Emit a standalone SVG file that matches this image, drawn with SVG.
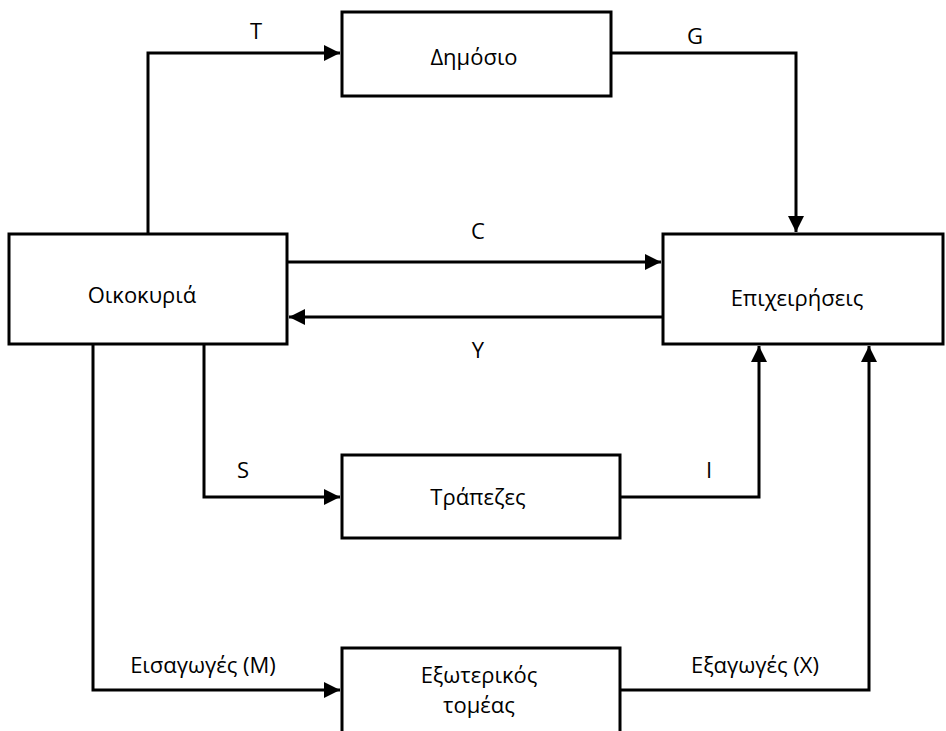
<svg xmlns="http://www.w3.org/2000/svg" width="946" height="731" viewBox="0 0 946 731">
<style>
.box{fill:#fff;stroke:#000;stroke-width:3}
.lbl{font-family:"Open Sans","DejaVu Sans",sans-serif;font-size:22px;fill:#000;text-anchor:middle}
.cn{fill:none;stroke:#000;stroke-width:3;stroke-linejoin:miter}
</style>
<defs>
<marker id="ah" markerUnits="userSpaceOnUse" markerWidth="17" markerHeight="16" refX="16" refY="8" orient="auto">
<path d="M0,0 L16,8 L0,16 z" fill="#000"/>
</marker>
</defs>
<rect width="946" height="731" fill="#fff"/>
<g id="connectors">
<path class="cn" d="M148,234 V53 H340" marker-end="url(#ah)"/>
<path class="cn" d="M611,53 H796 V232" marker-end="url(#ah)"/>
<path class="cn" d="M287,262 H661" marker-end="url(#ah)"/>
<path class="cn" d="M663,317 H289" marker-end="url(#ah)"/>
<path class="cn" d="M204,344 V497 H340" marker-end="url(#ah)"/>
<path class="cn" d="M620,497 H759 V346" marker-end="url(#ah)"/>
<path class="cn" d="M93,344 V690 H340" marker-end="url(#ah)"/>
<path class="cn" d="M620,690 H869 V346" marker-end="url(#ah)"/>
<text class="lbl" x="256" y="39">T</text>
<text class="lbl" x="695" y="44">G</text>
<text class="lbl" x="478" y="239">C</text>
<text class="lbl" x="478" y="358">Y</text>
<text class="lbl" x="243" y="478">S</text>
<text class="lbl" x="709" y="478">I</text>
<text class="lbl" x="203" y="673">Εισαγωγές (M)</text>
<text class="lbl" x="755" y="673">Εξαγωγές (X)</text>
</g>
<g id="dimosio">
<rect class="box" x="342" y="12" width="269" height="84"/>
<text class="lbl" x="474" y="65">Δημόσιο</text>
</g>
<g id="oikokyria">
<rect class="box" x="9" y="234" width="278" height="110"/>
<text class="lbl" x="142" y="303">Οικοκυριά</text>
</g>
<g id="epixeiriseis">
<rect class="box" x="663" y="234" width="280" height="110"/>
<text class="lbl" x="797" y="306">Επιχειρήσεις</text>
</g>
<g id="trapezes">
<rect class="box" x="342" y="455" width="278" height="83"/>
<text class="lbl" x="478" y="505">Τράπεζες</text>
</g>
<g id="exoterikos">
<rect class="box" x="342" y="648" width="278" height="100"/>
<text class="lbl" x="479" y="683">Εξωτερικός</text>
<text class="lbl" x="479" y="713">τομέας</text>
</g>
</svg>
